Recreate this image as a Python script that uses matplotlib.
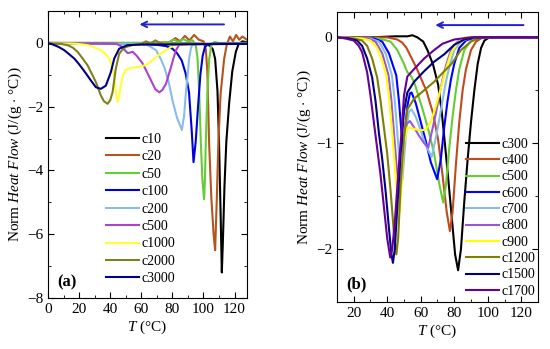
import numpy as np
import matplotlib
matplotlib.use('Agg')
from matplotlib import pyplot as plt
from matplotlib.ticker import MultipleLocator

plt.rcParams['font.family'] = ['Liberation Serif', 'DejaVu Serif']
plt.rcParams['mathtext.fontset'] = 'custom'
plt.rcParams['mathtext.rm'] = 'Liberation Serif'
plt.rcParams['mathtext.it'] = 'Liberation Serif:italic'

# ---- panel (a) data: T (degC), norm heat flow ----
a_labels = ['c10', 'c20', 'c50', 'c100', 'c200', 'c500', 'c1000', 'c2000', 'c3000']
a_colors = ['#000000', '#b5541c', '#66cc33', '#0000dd', '#88bbee', '#aa44cc', '#ffff33', '#808020', '#000080']

c10_T = [0, 30, 60, 90, 100, 104, 106, 107.5, 109, 110, 111, 111.8, 112.5, 113.5, 114.7, 116.5, 118.5, 120.8, 122.5, 125, 128]
c10_y = [0, -0.01, -0.02, -0.02, -0.03, -0.08, -0.2, -0.5, -1.5, -3.1, -5.3, -7.2, -6.2, -4.5, -3.1, -1.9, -0.9, -0.28, -0.05, 0.05, 0.02]
c20_T = [0, 30, 60, 78, 82, 85, 88, 91, 94, 97, 100, 101.5, 102.5, 103.6, 105, 106.5, 107.5, 108.5, 109.6, 111, 113.3, 115, 117, 119, 121, 123, 125, 128]
c20_y = [0, 0, 0, 0.02, 0.15, 0.05, 0.22, 0.08, 0.25, 0.1, 0.05, -0.2, -0.9, -3.1, -4.8, -6.0, -6.5, -5.0, -3.1, -1.6, -0.5, -0.05, 0.2, 0.05, 0.25, 0.1, 0.2, 0.1]
c50_T = [0, 40, 70, 78, 81, 84, 87, 90, 93, 95, 96.2, 97.3, 98.3, 99.3, 100.4, 101, 101.5, 102.5, 103.7, 105, 107, 110, 128]
c50_y = [0, 0, 0, 0.02, 0.1, 0.03, 0.12, 0.05, 0.08, -0.05, -0.5, -1.6, -3.1, -4.3, -4.9, -4.2, -3.1, -1.6, -0.5, -0.08, 0.03, 0, 0]
c100_T = [0, 40, 60, 70, 76, 80, 83, 86, 88.5, 90.7, 92.5, 93.6, 95, 96.5, 98, 99.5, 101, 103, 106, 128]
c100_y = [-0.02, -0.03, -0.04, -0.06, -0.1, -0.18, -0.32, -0.55, -0.95, -1.55, -2.8, -3.74, -3.1, -2.0, -1.0, -0.4, -0.12, -0.04, -0.02, -0.02]
c200_T = [0, 40, 60, 63, 66, 69.5, 72, 74.8, 77.5, 80.1, 83, 86.1, 87.5, 88.7, 90, 90.8, 92, 93, 96, 128]
c200_y = [-0.02, -0.03, -0.03, -0.05, -0.12, -0.23, -0.45, -0.76, -1.2, -1.81, -2.35, -2.73, -2.3, -1.55, -0.9, -0.48, -0.15, -0.05, -0.03, -0.03]
c500_T = [0, 30, 44, 47, 49.2, 51.3, 53, 54.5, 57, 60.9, 63.5, 66.3, 69, 71.6, 73.5, 75.9, 77.5, 79.1, 80.7, 82.3, 84.5, 90, 128]
c500_y = [-0.02, -0.02, -0.03, -0.1, -0.22, -0.32, -0.3, -0.28, -0.4, -0.65, -0.9, -1.18, -1.45, -1.55, -1.48, -1.28, -1.02, -0.76, -0.48, -0.23, -0.05, -0.03, -0.03]
c1000_T = [0, 15, 19, 25.4, 30, 34, 37, 39.3, 41, 42.6, 43.6, 44.7, 45.6, 46.8, 48.3, 50, 53, 57, 61, 64, 67, 69.5, 72.5, 75.9, 80, 85, 128]
c1000_y = [-0.02, -0.02, -0.03, -0.07, -0.14, -0.23, -0.35, -0.49, -0.7, -1.02, -1.55, -1.85, -1.7, -1.34, -1.0, -0.84, -0.78, -0.76, -0.72, -0.66, -0.55, -0.44, -0.33, -0.23, -0.1, -0.04, -0.03]
c2000_T = [0, 8, 12.6, 16, 19, 22, 25.4, 28, 30.8, 34, 36, 38.3, 40, 41.5, 43.6, 45.8, 48, 50, 55, 60, 63, 66, 69, 72, 75, 80, 128]
c2000_y = [-0.02, -0.03, -0.07, -0.15, -0.28, -0.47, -0.7, -0.95, -1.23, -1.65, -1.83, -1.91, -1.8, -1.55, -0.81, -0.34, -0.2, -0.13, -0.06, -0.04, 0.05, -0.02, 0.08, 0.0, -0.03, -0.03, -0.03]
c3000_T = [0, 2, 4.1, 7, 10.5, 13.5, 16.9, 19.5, 22.2, 25, 27.6, 30.8, 34, 37.2, 40.4, 42.6, 45.8, 51.1, 60, 80, 100, 128]
c3000_y = [-0.02, -0.03, -0.07, -0.13, -0.23, -0.35, -0.49, -0.64, -0.81, -1.0, -1.18, -1.39, -1.44, -1.34, -0.92, -0.49, -0.18, -0.07, -0.05, -0.05, -0.04, -0.03]

a_T = [c10_T, c20_T, c50_T, c100_T, c200_T, c500_T, c1000_T, c2000_T, c3000_T]
a_y = [c10_y, c20_y, c50_y, c100_y, c200_y, c500_y, c1000_y, c2000_y, c3000_y]

# ---- panel (b) data ----
b_labels = ['c300', 'c400', 'c500', 'c600', 'c700', 'c800', 'c900', 'c1200', 'c1500', 'c1700']
b_colors = ['#000000', '#c04a1c', '#66cc33', '#0000ff', '#88bbee', '#9955dd', '#ffff00', '#808000', '#000080', '#660099']

b300_T = [10, 30, 45, 52, 55, 58, 61.5, 64, 67.4, 70.4, 72.5, 74.4, 76.5, 78.5, 80.5, 82.3, 84, 86, 88, 90, 92, 94, 96, 98, 101, 130]
b300_y = [0, 0, 0.01, 0.01, 0.02, 0.0, -0.04, -0.12, -0.26, -0.45, -0.7, -1.0, -1.35, -1.7, -2.05, -2.2, -2.0, -1.55, -1.15, -0.8, -0.5, -0.25, -0.1, -0.03, 0, 0]
b400_T = [10, 40, 46, 49, 51.5, 54, 57.5, 60.5, 63.5, 65.5, 67.4, 70.4, 73, 75.5, 77.4, 79, 81, 83, 85, 87, 90, 93, 97, 130]
b400_y = [0, 0, -0.02, -0.05, -0.1, -0.18, -0.29, -0.4, -0.51, -0.62, -0.72, -0.97, -1.3, -1.65, -1.83, -1.65, -1.2, -0.8, -0.5, -0.3, -0.12, -0.04, 0, 0]
b500_T = [10, 35, 42, 46, 50, 52, 54, 56, 58, 61.5, 65, 68, 71, 73.4, 75, 77, 79, 81, 83, 86, 90, 95, 130]
b500_y = [0, -0.01, -0.04, -0.12, -0.25, -0.33, -0.36, -0.42, -0.52, -0.7, -0.9, -1.1, -1.38, -1.56, -1.4, -1.05, -0.75, -0.5, -0.3, -0.12, -0.03, 0, 0]
b600_T = [10, 32, 37, 41, 45.4, 47, 48.5, 49.5, 50.5, 52, 53.5, 54.5, 57, 60, 63, 66, 69.8, 72, 74, 76, 78, 80, 83, 87, 92, 130]
b600_y = [0, -0.01, -0.04, -0.15, -0.36, -0.6, -0.9, -1.05, -0.9, -0.65, -0.53, -0.52, -0.62, -0.8, -0.98, -1.18, -1.34, -1.15, -0.85, -0.6, -0.4, -0.25, -0.1, -0.03, 0, 0]
b700_T = [10, 30, 35, 39, 42.8, 44.5, 46.5, 48, 49, 50, 51.5, 53, 54.5, 57, 60, 63, 66.5, 69, 71, 73, 75, 77, 80, 84, 90, 130]
b700_y = [0, -0.01, -0.04, -0.15, -0.36, -0.6, -1.0, -1.3, -1.35, -1.15, -0.85, -0.7, -0.68, -0.75, -0.88, -1.02, -1.13, -0.95, -0.78, -0.6, -0.42, -0.28, -0.12, -0.04, 0, 0]
b800_T = [10, 28, 33, 37, 40.8, 42.5, 44.5, 46.5, 47.5, 48.5, 50, 51.5, 53.5, 56, 59, 62, 64.5, 66.5, 69, 71, 73, 75, 78, 82, 88, 130]
b800_y = [0, -0.01, -0.04, -0.15, -0.36, -0.6, -1.0, -1.4, -1.5, -1.35, -1.0, -0.82, -0.79, -0.85, -0.93, -1.0, -1.04, -0.9, -0.72, -0.55, -0.4, -0.27, -0.12, -0.04, 0, 0]
b900_T = [10, 25, 30, 34, 37, 39.4, 41, 43, 45, 46.5, 47.5, 48.5, 50, 52, 55, 60, 63, 66, 69, 72, 75, 78, 82, 86, 130]
b900_y = [0, -0.01, -0.03, -0.1, -0.22, -0.36, -0.55, -0.9, -1.3, -1.6, -1.65, -1.4, -1.0, -0.85, -0.86, -0.88, -0.87, -0.8, -0.65, -0.48, -0.3, -0.15, -0.05, 0, 0]
b1200_T = [10, 20, 25, 28, 31, 34, 36, 38, 40, 42, 44, 45.4, 46.5, 48, 50, 52, 56, 62, 68, 74, 78.4, 84, 90, 96, 130]
b1200_y = [0, -0.01, -0.03, -0.08, -0.2, -0.38, -0.6, -0.85, -1.1, -1.45, -1.85, -2.05, -1.9, -1.4, -0.95, -0.68, -0.58, -0.5, -0.42, -0.32, -0.25, -0.12, -0.04, 0, 0]
b1500_T = [10, 17, 22, 25, 28, 31, 33, 35, 37, 39, 41, 42.5, 43.4, 44.5, 46, 48, 50, 52, 56, 62, 68, 74, 80, 86, 92, 130]
b1500_y = [0, -0.01, -0.03, -0.08, -0.2, -0.38, -0.6, -0.9, -1.15, -1.45, -1.8, -2.05, -2.13, -2.0, -1.6, -1.1, -0.7, -0.52, -0.42, -0.32, -0.23, -0.16, -0.07, -0.02, 0, 0]
b1700_T = [10, 15, 20, 23, 25, 28, 30, 32, 34, 36, 38, 40, 41.8, 43, 44.5, 46.5, 48.5, 50, 52, 56, 62, 68, 73, 80, 90, 130]
b1700_y = [0, -0.01, -0.03, -0.08, -0.14, -0.33, -0.55, -0.8, -1.05, -1.3, -1.6, -1.9, -2.08, -2.0, -1.75, -1.3, -0.9, -0.55, -0.37, -0.3, -0.2, -0.12, -0.06, -0.02, 0, 0]

b_T = [b300_T, b400_T, b500_T, b600_T, b700_T, b800_T, b900_T, b1200_T, b1500_T, b1700_T]
b_y = [b300_y, b400_y, b500_y, b600_y, b700_y, b800_y, b900_y, b1200_y, b1500_y, b1700_y]

ylab = r'Norm $\it{Heat\ Flow}$ (J/(g $\cdot$ °C))'
xlab = r'$\it{T}$ (°C)'

fig = plt.figure(figsize=(5.5, 3.49), dpi=100)
ax1 = fig.add_axes([0.0873, 0.1461, 0.3618, 0.8223])
ax2 = fig.add_axes([0.6127, 0.1347, 0.3655, 0.831])

for T, y, c, lab in zip(a_T, a_y, a_colors, a_labels):
    ax1.plot(T, y, '-', color=c, lw=1.5, label=lab)
for T, y, c, lab in zip(b_T, b_y, b_colors, b_labels):
    ax2.plot(T, y, '-', color=c, lw=1.5, label=lab)

# panel a axes
ax1.set_xlim(0, 128)
ax1.set_ylim(-8, 1)
ax1.xaxis.set_major_locator(MultipleLocator(20))
ax1.xaxis.set_minor_locator(MultipleLocator(10))
ax1.yaxis.set_major_locator(MultipleLocator(2))
ax1.yaxis.set_minor_locator(MultipleLocator(1))
ax1.annotate('', xy=(57, 0.58), xytext=(115, 0.58),
             arrowprops=dict(arrowstyle='->', color='#2222cc', lw=1.4))
ax1.text(6, -7.5, '(a)', fontsize=12, fontweight='bold', va='center')
ax1.legend(loc='upper left', bbox_to_anchor=(0.255, 0.6), frameon=False, fontsize=10,
           handlelength=2.4, handletextpad=0.2, labelspacing=0.32, borderpad=0)

# panel b axes
ax2.set_xlim(10, 130)
ax2.set_ylim(-2.5, 0.24)
ax2.xaxis.set_major_locator(MultipleLocator(20))
ax2.xaxis.set_minor_locator(MultipleLocator(10))
ax2.yaxis.set_major_locator(MultipleLocator(1))
ax2.yaxis.set_minor_locator(MultipleLocator(0.5))
ax2.annotate('', xy=(67, 0.116), xytext=(123, 0.116),
             arrowprops=dict(arrowstyle='->', color='#2222cc', lw=1.4))
ax2.text(15.5, -2.33, '(b)', fontsize=12, fontweight='bold', va='center')
ax2.legend(loc='upper left', bbox_to_anchor=(0.605, 0.59), frameon=False, fontsize=10,
           handlelength=2.4, handletextpad=0.2, labelspacing=0.24, borderpad=0)

for ax in (ax1, ax2):
    ax.tick_params(which='both', direction='in', top=True, right=True, labelsize=11)
    ax.tick_params(which='major', length=4)
    ax.tick_params(which='minor', length=2.5)
    ax.set_xlabel(xlab, fontsize=11, labelpad=2)
    ax.set_ylabel(ylab, fontsize=11, labelpad=2)

fig.savefig('out.png', dpi=100)
plt.close()
